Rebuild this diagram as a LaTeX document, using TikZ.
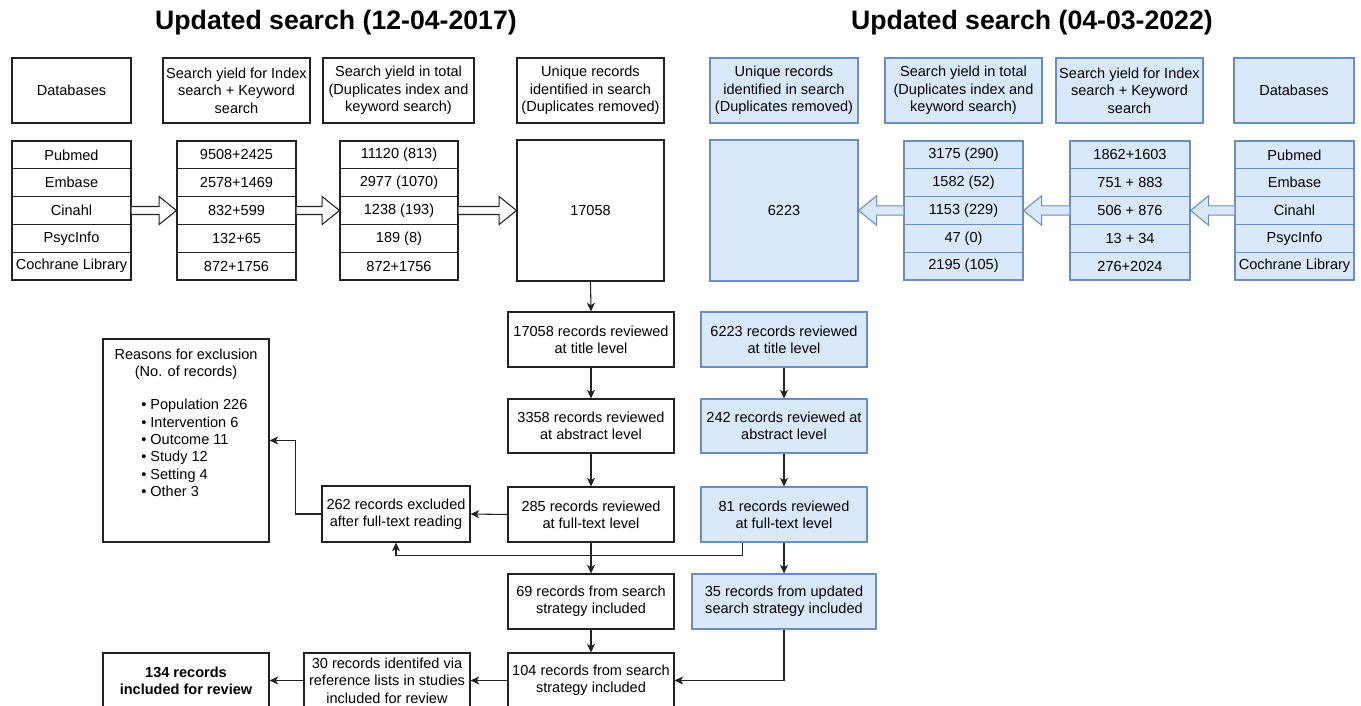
\documentclass[tikz,border=0pt]{standalone}
\usepackage{fontspec}
\setmainfont{Liberation Sans}
\usetikzlibrary{arrows.meta,calc}
\definecolor{bfill}{HTML}{DAE8FC}
\definecolor{bline}{HTML}{6C8EBF}
\definecolor{ln}{HTML}{222222}
% #1 extra style, #2 x1, #3 y1, #4 x2, #5 y2, #6 name
\newcommand\bx[6][]{\node[box,#1,minimum width={((#4)-(#2))*0.75pt},minimum height={((#5)-(#3))*0.75pt}] (#6) at ({((#2)+(#4))/2},{((#3)+(#5))/2})}
% hollow arrow pointing right: #1 style, #2 tail anchor, #3 tip anchor
\newcommand\holR[3]{\draw[#1] let \p1=(#2), \p2=(#3) in (\x1,\y1+3pt) -- (\x2-13pt,\y1+3pt) -- (\x2-13pt,\y1+10.5pt) -- (\x2,\y1) -- (\x2-13pt,\y1-10.5pt) -- (\x2-13pt,\y1-3pt) -- (\x1,\y1-3pt);}
\newcommand\holL[3]{\draw[#1] let \p1=(#2), \p2=(#3) in (\x1,\y1+3.5pt) -- (\x2+13.5pt,\y1+3.5pt) -- (\x2+13.5pt,\y1+11pt) -- (\x2,\y1) -- (\x2+13.5pt,\y1-11pt) -- (\x2+13.5pt,\y1-3.5pt) -- (\x1,\y1-3.5pt);}
\begin{document}
\begin{tikzpicture}[x=0.75pt,y=-0.75pt,
  box/.style={draw=ln,line width=0.8pt,fill=white,inner sep=0pt,align=center,
    font=\fontsize{10.9}{13}\selectfont,text=black},
  bluebox/.style={draw=bline,fill=bfill},
  arr/.style={draw=ln,line width=0.8pt,-{Stealth[length=6.5pt,width=6pt,inset=1.8pt]}},
  hol/.style={draw=ln,fill=white,line width=0.8pt,line join=miter},
  bhol/.style={draw=bline,fill=bfill,line width=0.8pt,line join=miter},
  ttl/.style={font=\fontsize{20}{24}\selectfont\bfseries,inner sep=0pt},
  txt/.style={inner sep=0pt,font=\fontsize{10.9}{13}\selectfont}]
\useasboundingbox (0,0) rectangle (1361,706);
\fill[white] (0,0) rectangle (1361,706);

% titles
\node[ttl] (title1) at (336,23) {Updated search (12-04-2017)};
\node[ttl] (title2) at (1032,23) {Updated search (04-03-2022)};

% left headers
\bx{12}{58}{131}{123}{hdb} {Databases};
\bx{163}{58}{310}{123}{hix} {Search yield for Index\\search + Keyword\\search};
\bx{323}{58}{474}{123}{htot} {Search yield in total\\(Duplicates index and\\keyword search)};
\bx{517}{58}{664}{123}{huniq} {Unique records\\identified in search\\(Duplicates removed)};

% right headers
\bx[bluebox]{710}{58}{858}{123}{bhuniq} {Unique records\\identified in search\\(Duplicates removed)};
\bx[bluebox]{885}{58}{1042}{123}{bhtot} {Search yield in total\\(Duplicates index and\\keyword search)};
\bx[bluebox]{1056}{58}{1203}{123}{bhix} {Search yield for Index\\search + Keyword\\search};
\bx[bluebox]{1234}{58}{1354}{123}{bhdb} {Databases};

% left tables
\foreach \t [count=\i] in {Pubmed,Embase,Cinahl,PsycInfo,Cochrane Library}
  \bx{12}{141+27.8*(\i-1)}{131}{141+27.8*\i}{db\i} {\t};
\foreach \t [count=\i] in {9508+2425,2578+1469,832+599,132+65,872+1756}
  \bx{177}{141+27.8*(\i-1)}{296}{141+27.8*\i}{ix\i} {\t};
\foreach \t [count=\i] in {{11120 (813)},{2977 (1070)},{1238 (193)},{189 (8)},{872+1756}}
  \bx{340}{141+27.8*(\i-1)}{458}{141+27.8*\i}{tot\i} {\t};
\bx{517}{140}{664}{281}{uniq} {17058};

% right tables
\bx[bluebox]{710}{140}{858}{281}{buniq} {6223};
\foreach \t [count=\i] in {{3175 (290)},{1582 (52)},{1153 (229)},{47 (0)},{2195 (105)}}
  \bx[bluebox]{904}{141+27.8*(\i-1)}{1023}{141+27.8*\i}{btot\i} {\t};
\foreach \t [count=\i] in {1862+1603,751 + 883,506 + 876,13 + 34,276+2024}
  \bx[bluebox]{1070}{141+27.8*(\i-1)}{1190}{141+27.8*\i}{bix\i} {\t};
\foreach \t [count=\i] in {Pubmed,Embase,Cinahl,PsycInfo,Cochrane Library}
  \bx[bluebox]{1235}{141+27.8*(\i-1)}{1354}{141+27.8*\i}{bdb\i} {\t};

% hollow arrows
\holR{hol}{db3.east}{ix3.west}
\holR{hol}{ix3.east}{tot3.west}
\holR{hol}{tot3.east}{uniq.west|-tot3.east}
\holL{bhol}{bdb3.west}{bix3.east}
\holL{bhol}{bix3.west}{btot3.east}
\holL{bhol}{btot3.west}{buniq.east|-btot3.west}

% left flow
\bx{508}{312}{674}{367}{t1} {17058 records reviewed\\at title level};
\bx{508}{399}{674}{453}{a1} {3358 records reviewed\\at abstract level};
\bx{508}{487}{674}{542}{f1} {285 records reviewed\\at full-text level};
\bx{508}{574}{674}{629}{r69} {69 records from search\\strategy included};
\bx{508}{653}{674}{708}{r104} {104 records from search\\strategy included};
\bx{322}{486}{470}{542}{ex} {262 records excluded\\after full-text reading};
\bx{103}{339}{269}{542}{reasons} {};
\node[txt,align=center] (rhead) at (186,364) {Reasons for exclusion\\(No. of records)};
\node[txt,align=left,anchor=north west] (rlist) at (141,399)
  {•\ Population 226\\•\ Intervention 6\\•\ Outcome 11\\•\ Study 12\\•\ Setting 4\\•\ Other 3};
\bx{304}{653}{470}{708}{ref30} {30 records identifed via\\reference lists in studies\\included for review};
\bx{103}{653}{269}{708}{final} {\bfseries 134 records\\\bfseries included for review};

% right flow
\bx[bluebox]{701}{312}{867}{367}{bt1} {6223 records reviewed\\at title level};
\bx[bluebox]{701}{399}{867}{453}{ba1} {242 records reviewed at\\abstract level};
\bx[bluebox]{701}{487}{867}{542}{bf1} {81 records reviewed\\at full-text level};
\bx[bluebox]{692}{574}{876}{629}{b35} {35 records from updated\\search strategy included};

% connectors
\draw[arr] (uniq.south) -- (t1.north);
\draw[arr] (t1.south) -- (a1.north);
\draw[arr] (a1.south) -- (f1.north);
\draw[arr] (f1.west) -- (ex.east);
\draw[arr] (ex.west) -- ++(-26,0) |- (reasons.east);
\draw[arr] (f1.south) -- (r69.north);
\draw[arr] ($(bf1.south west)+(42,0)$) -- ++(0,13) -| (ex.south);
\draw[arr] (r69.south) -- (r104.north);
\draw[arr] (bt1.south) -- (ba1.north);
\draw[arr] (ba1.south) -- (bf1.north);
\draw[arr] (bf1.south) -- (b35.north);
\draw[arr] (b35.south) |- (r104.east);
\draw[arr] (r104.west) -- (ref30.east);
\draw[arr] (ref30.west) -- (final.east);
\end{tikzpicture}
\end{document}
